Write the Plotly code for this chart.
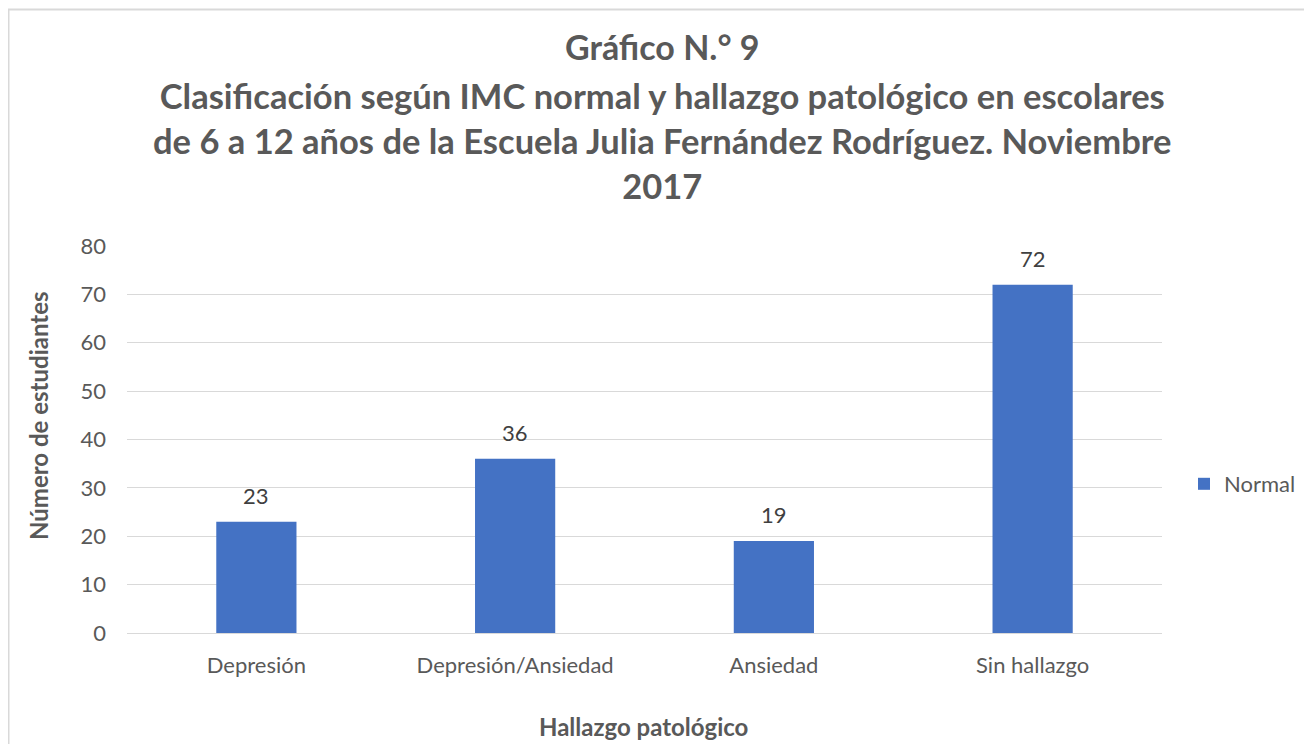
import plotly.graph_objects as go

categories = ["Depresión", "Depresión/Ansiedad", "Ansiedad", "Sin hallazgo"]
values = [23, 36, 19, 72]
series_name = "Normal"
y_ticks = [0, 10, 20, 30, 40, 50, 60, 70, 80]

# page body has an 8px margin, so the figure is drawn offset by (8, 8)
W, H = 1304, 736
ml, mr, mt, mb = 119, 150, 238, 111
pw, ph = W - ml - mr, H - mt - mb

def px_x(x):
    return (x - ml) / pw

def px_y(y):
    return (H - mb - y) / ph

FONT = "Lato"
GREY = "#595959"

fig = go.Figure()
fig.add_trace(go.Bar(
    x=categories, y=values, name=series_name,
    marker=dict(color="#4472C4", line=dict(width=0)),
))

# data labels placed through the data axes
label_annotations = [
    dict(x=c, y=v, xref="x", yref="y", text=str(v), showarrow=False,
         yanchor="bottom", yshift=11,
         font=dict(family=FONT, size=22, color="#404040"))
    for c, v in zip(categories, values)
]

fig.update_layout(
    width=W, height=H,
    margin=dict(l=ml, r=mr, t=mt, b=mb, autoexpand=False),
    paper_bgcolor="white", plot_bgcolor="white",
    bargap=0.69,
    font=dict(family=FONT, color=GREY),
    xaxis=dict(
        showgrid=False, showline=False, ticks="",
        tickfont=dict(family=FONT, size=22, color=GREY),
        ticklabelstandoff=17,
    ),
    yaxis=dict(
        range=[0, 80], tickvals=y_ticks, showgrid=True, gridcolor="#d9d9d9", gridwidth=1.3,
        zeroline=True, zerolinecolor="#d9d9d9", zerolinewidth=1.3,
        showline=False, ticks="",
        tickfont=dict(family=FONT, size=22, color=GREY),
        ticklabelstandoff=20,
    ),
    showlegend=True,
    legend=dict(x=px_x(1176), y=px_y(476), xanchor="left", yanchor="middle",
                font=dict(family=FONT, size=22, color=GREY), bgcolor="rgba(0,0,0,0)"),
    annotations=label_annotations + [
        dict(text="<b>Gráfico N.° 9</b>", xref="paper", yref="paper",
             x=px_x(654), y=px_y(39), xanchor="center", yanchor="middle", showarrow=False,
             font=dict(family=FONT, size=34, color=GREY)),
        dict(text="<b>Clasificación según IMC normal y hallazgo patológico en escolares<br>"
                  "de 6 a 12 años de la Escuela Julia Fernández Rodríguez. Noviembre<br>2017</b>",
             xref="paper", yref="paper", x=px_x(654), y=px_y(132),
             xanchor="center", yanchor="middle", align="center", showarrow=False,
             font=dict(family=FONT, size=34.5, color=GREY)),
        dict(text="<b>Número de estudiantes</b>", xref="paper", yref="paper",
             x=px_x(30), y=px_y(408), xanchor="center", yanchor="middle", textangle=-90,
             showarrow=False, font=dict(family=FONT, size=24, color=GREY)),
        dict(text="<b>Hallazgo patológico</b>", xref="paper", yref="paper",
             x=px_x(635), y=px_y(718), xanchor="center", yanchor="middle",
             showarrow=False, font=dict(family=FONT, size=24, color=GREY)),
    ],
    shapes=[dict(type="rect", xref="paper", yref="paper",
                 x0=px_x(0.5), x1=px_x(1320), y0=px_y(760), y1=px_y(1.5),
                 line=dict(color="#d9d9d9", width=2), fillcolor="rgba(0,0,0,0)", layer="below")],
)

fig.write_html("out.html")
